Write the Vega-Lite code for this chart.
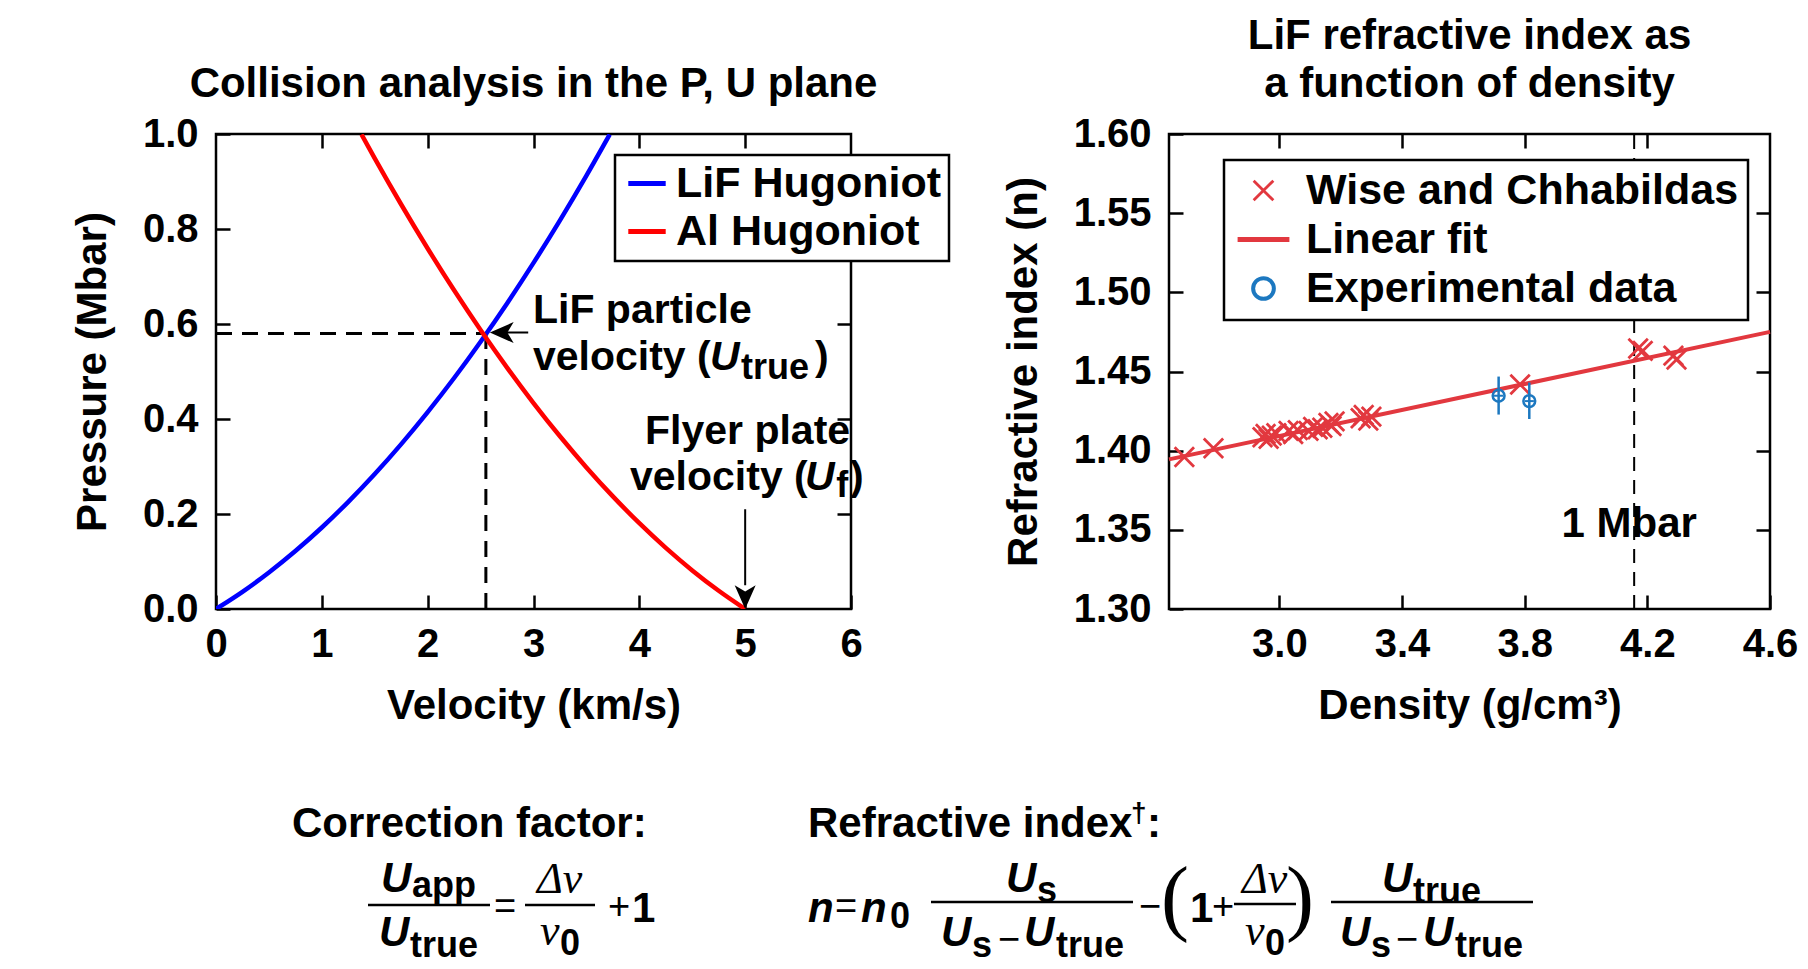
{
  "$schema": "https://vega.github.io/schema/vega-lite/v6.json",
  "padding": {"left": 70, "top": 13, "right": 0, "bottom": 0},
  "background": "white",
  "spacing": 72,
  "vconcat": [
    {
      "bounds": "flush",
      "spacing": 318,
      "resolve": {"scale": {"color": "independent"}, "legend": {"color": "independent"}},
      "hconcat": [
        {
          "width": 635,
          "height": 475,
          "title": {"text": "Collision analysis in the P, U plane", "baseline": "bottom", "offset": -34},
          "layer": [
            {
              "data": {"values": [
                {"u": 0, "u2": 2.55, "p": 0.58, "p2": 0.58},
                {"u": 2.55, "u2": 2.55, "p": 0, "p2": 0.58}
              ]},
              "mark": {"type": "rule", "strokeDash": [16, 10], "strokeWidth": 3, "color": "black"},
              "encoding": {
                "x": {"field": "u", "type": "quantitative", "scale": {"domain": [0, 6], "nice": false, "zero": false},
                      "axis": {"orient": "top", "values": [1, 2, 3, 4, 5], "labels": false, "title": null, "minExtent": 0, "maxExtent": 0}},
                "x2": {"field": "u2"},
                "y": {"field": "p", "type": "quantitative", "scale": {"domain": [0, 1], "nice": false, "zero": false},
                      "axis": {"orient": "right", "values": [0.2, 0.4, 0.6, 0.8], "labels": false, "title": null, "minExtent": 0, "maxExtent": 0}},
                "y2": {"field": "p2"}
              }
            },
            {
              "data": {"values": [
                {"curve": "LiF Hugoniot", "u": 0, "p": 0},
                {"curve": "LiF Hugoniot", "u": 0.25, "p": 0.0362},
                {"curve": "LiF Hugoniot", "u": 0.5, "p": 0.0769},
                {"curve": "LiF Hugoniot", "u": 0.75, "p": 0.122},
                {"curve": "LiF Hugoniot", "u": 1.0, "p": 0.1716},
                {"curve": "LiF Hugoniot", "u": 1.25, "p": 0.2256},
                {"curve": "LiF Hugoniot", "u": 1.5, "p": 0.2841},
                {"curve": "LiF Hugoniot", "u": 1.75, "p": 0.3471},
                {"curve": "LiF Hugoniot", "u": 2.0, "p": 0.4145},
                {"curve": "LiF Hugoniot", "u": 2.25, "p": 0.4863},
                {"curve": "LiF Hugoniot", "u": 2.5, "p": 0.5627},
                {"curve": "LiF Hugoniot", "u": 2.75, "p": 0.6434},
                {"curve": "LiF Hugoniot", "u": 3.0, "p": 0.7286},
                {"curve": "LiF Hugoniot", "u": 3.25, "p": 0.8183},
                {"curve": "LiF Hugoniot", "u": 3.5, "p": 0.9125},
                {"curve": "LiF Hugoniot", "u": 3.72, "p": 0.999},
                {"curve": "Al Hugoniot", "u": 1.375, "p": 0.999},
                {"curve": "Al Hugoniot", "u": 1.5, "p": 0.9488},
                {"curve": "Al Hugoniot", "u": 1.75, "p": 0.8516},
                {"curve": "Al Hugoniot", "u": 2.0, "p": 0.759},
                {"curve": "Al Hugoniot", "u": 2.25, "p": 0.6709},
                {"curve": "Al Hugoniot", "u": 2.5, "p": 0.5873},
                {"curve": "Al Hugoniot", "u": 2.75, "p": 0.5082},
                {"curve": "Al Hugoniot", "u": 3.0, "p": 0.4336},
                {"curve": "Al Hugoniot", "u": 3.25, "p": 0.3636},
                {"curve": "Al Hugoniot", "u": 3.5, "p": 0.2981},
                {"curve": "Al Hugoniot", "u": 3.75, "p": 0.2371},
                {"curve": "Al Hugoniot", "u": 4.0, "p": 0.1806},
                {"curve": "Al Hugoniot", "u": 4.25, "p": 0.1287},
                {"curve": "Al Hugoniot", "u": 4.5, "p": 0.0813},
                {"curve": "Al Hugoniot", "u": 4.75, "p": 0.0384},
                {"curve": "Al Hugoniot", "u": 5.0, "p": 0}
              ]},
              "mark": {"type": "line", "strokeWidth": 4.5, "interpolate": "monotone", "clip": true},
              "encoding": {
                "x": {"field": "u", "type": "quantitative",
                      "axis": {"orient": "bottom", "values": [0, 1, 2, 3, 4, 5, 6], "format": "d", "title": "Velocity (km/s)"}},
                "y": {"field": "p", "type": "quantitative",
                      "axis": {"orient": "left", "values": [0, 0.2, 0.4, 0.6, 0.8, 1.0], "format": ".1f", "title": "Pressure (Mbar)"}},
                "color": {"field": "curve", "type": "nominal",
                          "scale": {"domain": ["LiF Hugoniot", "Al Hugoniot"], "range": ["#0000ff", "#ff0000"]},
                          "legend": {"orient": "none", "legendX": 399, "legendY": 21, "title": null,
                                     "symbolType": "stroke", "symbolSize": 1400, "symbolStrokeWidth": 5,
                                     "labelFont": "Liberation Sans", "labelFontSize": 43, "labelFontWeight": "bold",
                                     "labelColor": "black", "labelLimit": 1000,
                                     "strokeColor": "black", "fillColor": "white",
                                     "padding": 7, "rowPadding": 4, "symbolOffset": 3.5, "labelOffset": 7.5}}
              }
            },
            {
              "data": {"values": [
                {"u": 2.62, "u2": 2.95, "p": 0.582, "p2": 0.582},
                {"u": 5, "u2": 5, "p": 0.21, "p2": 0.05}
              ]},
              "mark": {"type": "rule", "strokeWidth": 2, "color": "black"},
              "encoding": {
                "x": {"field": "u", "type": "quantitative", "axis": null},
                "x2": {"field": "u2"},
                "y": {"field": "p", "type": "quantitative", "axis": null},
                "y2": {"field": "p2"}
              }
            },
            {
              "data": {"values": [{"u": 2.72, "p": 0.582}]},
              "mark": {"type": "point", "shape": "M-1,0L0.7,-0.75L0.25,0L0.7,0.75Z", "size": 784, "filled": true, "color": "black", "opacity": 1, "strokeWidth": 0},
              "encoding": {
                "x": {"field": "u", "type": "quantitative", "axis": null},
                "y": {"field": "p", "type": "quantitative", "axis": null}
              }
            },
            {
              "data": {"values": [{"u": 5, "p": 0.0295}]},
              "mark": {"type": "point", "shape": "M0,1L-0.75,-0.7L0,-0.25L0.75,-0.7Z", "size": 784, "filled": true, "color": "black", "opacity": 1, "strokeWidth": 0},
              "encoding": {
                "x": {"field": "u", "type": "quantitative", "axis": null},
                "y": {"field": "p", "type": "quantitative", "axis": null}
              }
            },
            {
              "data": {"values": [
                {"u": 2.995, "p": 0.603, "t": "LiF particle"},
                {"u": 2.995, "p": 0.504, "t": "velocity ("},
                {"u": 5.66, "p": 0.504, "t": ")"},
                {"u": 4.054, "p": 0.347, "t": "Flyer plate"},
                {"u": 3.912, "p": 0.2495, "t": "velocity ("},
                {"u": 5.99, "p": 0.2495, "t": ")"}
              ]},
              "mark": {"type": "text", "align": "left", "baseline": "alphabetic", "fontSize": 41, "fontWeight": "bold", "font": "Liberation Sans", "color": "black"},
              "encoding": {
                "x": {"field": "u", "type": "quantitative", "axis": null},
                "y": {"field": "p", "type": "quantitative", "axis": null},
                "text": {"field": "t"}
              }
            },
            {
              "data": {"values": [
                {"u": 4.668, "p": 0.504, "t": "U"},
                {"u": 5.565, "p": 0.2495, "t": "U"}
              ]},
              "mark": {"type": "text", "align": "left", "baseline": "alphabetic", "fontSize": 41, "fontWeight": "bold", "fontStyle": "italic", "font": "Liberation Sans", "color": "black"},
              "encoding": {
                "x": {"field": "u", "type": "quantitative", "axis": null},
                "y": {"field": "p", "type": "quantitative", "axis": null},
                "text": {"field": "t"}
              }
            },
            {
              "data": {"values": [
                {"u": 4.96, "p": 0.484, "t": "true"},
                {"u": 5.86, "p": 0.235, "t": "f"}
              ]},
              "mark": {"type": "text", "align": "left", "baseline": "alphabetic", "fontSize": 36, "fontWeight": "bold", "font": "Liberation Sans", "color": "black"},
              "encoding": {
                "x": {"field": "u", "type": "quantitative", "axis": null},
                "y": {"field": "p", "type": "quantitative", "axis": null},
                "text": {"field": "t"}
              }
            }
          ]
        },
        {
          "width": 601,
          "height": 475,
          "title": {"text": ["LiF refractive index as", "a function of density"], "baseline": "bottom", "offset": -34},
          "layer": [
            {
              "data": {"values": [{"d": 4.157, "n": 1.3, "n2": 1.6}]},
              "mark": {"type": "rule", "strokeDash": [14, 9], "strokeWidth": 2, "color": "black"},
              "encoding": {
                "x": {"field": "d", "type": "quantitative", "scale": {"domain": [2.64, 4.6], "nice": false, "zero": false},
                      "axis": {"orient": "top", "values": [3.0, 3.4, 3.8, 4.2], "labels": false, "title": null, "minExtent": 0, "maxExtent": 0}},
                "y": {"field": "n", "type": "quantitative", "scale": {"domain": [1.3, 1.6], "nice": false, "zero": false},
                      "axis": {"orient": "right", "values": [1.35, 1.4, 1.45, 1.5, 1.55], "labels": false, "title": null, "minExtent": 0, "maxExtent": 0}},
                "y2": {"field": "n2"}
              }
            },
            {
              "data": {"values": [
                {"d": 2.64, "n": 1.3945, "series": "Linear fit"},
                {"d": 4.6, "n": 1.475, "series": "Linear fit"}
              ]},
              "mark": {"type": "line", "strokeWidth": 4},
              "encoding": {
                "x": {"field": "d", "type": "quantitative",
                      "axis": {"orient": "bottom", "values": [3.0, 3.4, 3.8, 4.2, 4.6], "format": ".1f", "title": "Density (g/cm³)"}},
                "y": {"field": "n", "type": "quantitative",
                      "axis": {"orient": "left", "values": [1.3, 1.35, 1.4, 1.45, 1.5, 1.55, 1.6], "format": ".2f", "title": "Refractive index (n)"}},
                "color": {"field": "series", "type": "nominal",
                          "scale": {"domain": ["Wise and Chhabildas", "Linear fit", "Experimental data"], "range": ["#e2383f", "#e2383f", "#1c78c0"]},
                          "legend": {"orient": "none", "legendX": 55, "legendY": 26, "title": null,
                                     "symbolSize": 2683,
                                     "labelFont": "Liberation Sans", "labelFontSize": 43, "labelFontWeight": "bold",
                                     "labelColor": "black", "labelLimit": 1000,
                                     "strokeColor": "black", "fillColor": "white",
                                     "padding": 9, "rowPadding": 5, "symbolOffset": 9, "labelOffset": 21,
                                     "encode": {"symbols": {"update": {
                                       "shape": {"signal": "datum.value === 'Linear fit' ? 'M-1,0L1,0' : datum.value === 'Experimental data' ? 'M0.4,0A0.4,0.4,0,1,1,-0.4,0A0.4,0.4,0,1,1,0.4,0Z' : 'M-0.38,-0.38L0.38,0.38M-0.38,0.38L0.38,-0.38'"},
                                       "stroke": {"signal": "datum.value === 'Experimental data' ? '#1c78c0' : '#e2383f'"},
                                       "fill": {"value": "transparent"},
                                       "strokeWidth": {"signal": "datum.value === 'Linear fit' ? 5 : datum.value === 'Experimental data' ? 4 : 2.8"},
                                       "opacity": {"value": 1}
                                     }}}}}
              }
            },
            {
              "data": {"values": [
                {"d": 2.69, "n": 1.396, "series": "Wise and Chhabildas"},
                {"d": 2.785, "n": 1.4015, "series": "Wise and Chhabildas"},
                {"d": 2.945, "n": 1.4085, "series": "Wise and Chhabildas"},
                {"d": 2.955, "n": 1.4105, "series": "Wise and Chhabildas"},
                {"d": 2.965, "n": 1.4075, "series": "Wise and Chhabildas"},
                {"d": 2.975, "n": 1.4095, "series": "Wise and Chhabildas"},
                {"d": 2.99, "n": 1.411, "series": "Wise and Chhabildas"},
                {"d": 3.03, "n": 1.4125, "series": "Wise and Chhabildas"},
                {"d": 3.045, "n": 1.4105, "series": "Wise and Chhabildas"},
                {"d": 3.06, "n": 1.413, "series": "Wise and Chhabildas"},
                {"d": 3.095, "n": 1.4125, "series": "Wise and Chhabildas"},
                {"d": 3.11, "n": 1.415, "series": "Wise and Chhabildas"},
                {"d": 3.125, "n": 1.4135, "series": "Wise and Chhabildas"},
                {"d": 3.14, "n": 1.4145, "series": "Wise and Chhabildas"},
                {"d": 3.16, "n": 1.4175, "series": "Wise and Chhabildas"},
                {"d": 3.17, "n": 1.4155, "series": "Wise and Chhabildas"},
                {"d": 3.18, "n": 1.4185, "series": "Wise and Chhabildas"},
                {"d": 3.265, "n": 1.4205, "series": "Wise and Chhabildas"},
                {"d": 3.275, "n": 1.4225, "series": "Wise and Chhabildas"},
                {"d": 3.29, "n": 1.419, "series": "Wise and Chhabildas"},
                {"d": 3.3, "n": 1.4215, "series": "Wise and Chhabildas"},
                {"d": 3.785, "n": 1.4418, "series": "Wise and Chhabildas"},
                {"d": 4.17, "n": 1.4645, "series": "Wise and Chhabildas"},
                {"d": 4.185, "n": 1.463, "series": "Wise and Chhabildas"},
                {"d": 4.285, "n": 1.46, "series": "Wise and Chhabildas"},
                {"d": 4.295, "n": 1.4575, "series": "Wise and Chhabildas"}
              ]},
              "mark": {"type": "point", "shape": "M-0.38,-0.38L0.38,0.38M-0.38,0.38L0.38,-0.38", "size": 2600, "filled": false, "strokeWidth": 2.8, "opacity": 1},
              "encoding": {
                "x": {"field": "d", "type": "quantitative", "axis": null},
                "y": {"field": "n", "type": "quantitative", "axis": null},
                "color": {"field": "series", "type": "nominal"}
              }
            },
            {
              "data": {"values": [
                {"d": 3.715, "lo": 1.4228, "hi": 1.4468},
                {"d": 3.815, "lo": 1.42, "hi": 1.443}
              ]},
              "mark": {"type": "rule", "strokeWidth": 2.5, "color": "#1c78c0"},
              "encoding": {
                "x": {"field": "d", "type": "quantitative", "axis": null},
                "y": {"field": "lo", "type": "quantitative", "axis": null},
                "y2": {"field": "hi"}
              }
            },
            {
              "data": {"values": [
                {"d": 3.7, "d2": 3.73, "n": 1.4347},
                {"d": 3.8, "d2": 3.83, "n": 1.4313}
              ]},
              "mark": {"type": "rule", "strokeWidth": 2, "color": "#1c78c0"},
              "encoding": {
                "x": {"field": "d", "type": "quantitative", "axis": null},
                "x2": {"field": "d2"},
                "y": {"field": "n", "type": "quantitative", "axis": null}
              }
            },
            {
              "data": {"values": [
                {"d": 3.715, "n": 1.4347, "series": "Experimental data"},
                {"d": 3.815, "n": 1.4313, "series": "Experimental data"}
              ]},
              "mark": {"type": "point", "shape": "circle", "size": 140, "filled": false, "strokeWidth": 2.5, "opacity": 1},
              "encoding": {
                "x": {"field": "d", "type": "quantitative", "axis": null},
                "y": {"field": "n", "type": "quantitative", "axis": null},
                "color": {"field": "series", "type": "nominal"}
              }
            },
            {
              "data": {"values": [{"d": 4.141, "n": 1.354, "t": "1 Mbar"}]},
              "mark": {"type": "text", "align": "center", "baseline": "middle", "fontSize": 42, "fontWeight": "bold", "font": "Liberation Sans", "color": "black"},
              "encoding": {
                "x": {"field": "d", "type": "quantitative", "axis": null},
                "y": {"field": "n", "type": "quantitative", "axis": null},
                "text": {"field": "t"}
              }
            }
          ]
        }
      ]
    },
    {
      "width": 1592,
      "height": 169,
      "view": {"stroke": null},
      "layer": [
        {
          "data": {"values": [
            {"fx": 9.548, "fx2": 17.211, "fy": 62.13},
            {"fx": 19.41, "fx2": 23.807, "fy": 62.13},
            {"fx": 44.912, "fx2": 57.601, "fy": 60.36},
            {"fx": 63.945, "fx2": 67.839, "fy": 61.54},
            {"fx": 70.038, "fx2": 82.726, "fy": 60.36}
          ]},
          "mark": {"type": "rule", "strokeWidth": 2.5, "color": "black"},
          "encoding": {
            "x": {"field": "fx", "type": "quantitative", "scale": {"domain": [0, 100], "nice": false, "zero": false}, "axis": null},
            "x2": {"field": "fx2"},
            "y": {"field": "fy", "type": "quantitative", "scale": {"domain": [0, 100], "nice": false, "zero": false, "reverse": true}, "axis": null}
          }
        },
        {
          "data": {"values": [
            {"fx": 4.774, "fy": 21.89, "t": "Correction factor:"},
            {"fx": 37.186, "fy": 21.89, "t": "Refractive index"},
            {"fx": 58.48, "fy": 21.89, "t": ":"},
            {"fx": 26.131, "fy": 72.43, "t": "1"},
            {"fx": 61.181, "fy": 72.43, "t": "1"}
          ]},
          "mark": {"type": "text", "align": "left", "baseline": "alphabetic", "fontSize": 42, "fontWeight": "bold", "font": "Liberation Sans", "color": "black"},
          "encoding": {
            "x": {"field": "fx", "type": "quantitative", "axis": null},
            "y": {"field": "fy", "type": "quantitative", "axis": null},
            "text": {"field": "t"}
          }
        },
        {
          "data": {"values": [
            {"fx": 10.364, "fy": 54.73, "t": "U"},
            {"fx": 10.239, "fy": 86.39, "t": "U"},
            {"fx": 37.186, "fy": 72.43, "t": "n"},
            {"fx": 40.515, "fy": 72.43, "t": "n"},
            {"fx": 49.623, "fy": 54.73, "t": "U"},
            {"fx": 45.54, "fy": 86.39, "t": "U"},
            {"fx": 50.754, "fy": 86.39, "t": "U"},
            {"fx": 73.241, "fy": 54.73, "t": "U"},
            {"fx": 70.603, "fy": 86.39, "t": "U"},
            {"fx": 75.817, "fy": 86.39, "t": "U"}
          ]},
          "mark": {"type": "text", "align": "left", "baseline": "alphabetic", "fontSize": 42, "fontWeight": "bold", "fontStyle": "italic", "font": "Liberation Sans", "color": "black"},
          "encoding": {
            "x": {"field": "fx", "type": "quantitative", "axis": null},
            "y": {"field": "fy", "type": "quantitative", "axis": null},
            "text": {"field": "t"}
          }
        },
        {
          "data": {"values": [
            {"fx": 12.312, "fy": 57.69, "t": "app"},
            {"fx": 12.186, "fy": 92.9, "t": "true"},
            {"fx": 21.608, "fy": 91.72, "t": "0"},
            {"fx": 42.337, "fy": 75.98, "t": "0"},
            {"fx": 51.57, "fy": 60.65, "t": "s"},
            {"fx": 47.487, "fy": 92.9, "t": "s"},
            {"fx": 52.764, "fy": 92.9, "t": "true"},
            {"fx": 65.892, "fy": 91.72, "t": "0"},
            {"fx": 75.188, "fy": 61.24, "t": "true"},
            {"fx": 72.55, "fy": 92.9, "t": "s"},
            {"fx": 77.827, "fy": 92.9, "t": "true"}
          ]},
          "mark": {"type": "text", "align": "left", "baseline": "alphabetic", "fontSize": 36, "fontWeight": "bold", "font": "Liberation Sans", "color": "black"},
          "encoding": {
            "x": {"field": "fx", "type": "quantitative", "axis": null},
            "y": {"field": "fy", "type": "quantitative", "axis": null},
            "text": {"field": "t"}
          }
        },
        {
          "data": {"values": [{"fx": 57.475, "fy": 13.02, "t": "†"}]},
          "mark": {"type": "text", "align": "left", "baseline": "alphabetic", "fontSize": 28, "fontWeight": "bold", "font": "Liberation Sans", "color": "black"},
          "encoding": {
            "x": {"field": "fx", "type": "quantitative", "axis": null},
            "y": {"field": "fy", "type": "quantitative", "axis": null},
            "text": {"field": "t"}
          }
        },
        {
          "data": {"values": [
            {"fx": 18.153, "fy": 64.14, "t": "="},
            {"fx": 25.314, "fy": 64.14, "t": "+"},
            {"fx": 39.573, "fy": 64.14, "t": "="},
            {"fx": 49.812, "fy": 83.43, "t": "−"},
            {"fx": 58.668, "fy": 64.14, "t": "−"},
            {"fx": 63.254, "fy": 64.14, "t": "+"},
            {"fx": 74.812, "fy": 83.43, "t": "−"}
          ]},
          "mark": {"type": "text", "align": "center", "baseline": "middle", "fontSize": 38, "fontWeight": "normal", "font": "Liberation Sans", "color": "black"},
          "encoding": {
            "x": {"field": "fx", "type": "quantitative", "axis": null},
            "y": {"field": "fy", "type": "quantitative", "axis": null},
            "text": {"field": "t"}
          }
        },
        {
          "data": {"values": [
            {"fx": 20.163, "fy": 55.03, "t": "Δν"},
            {"fx": 20.352, "fy": 85.8, "t": "ν"},
            {"fx": 64.447, "fy": 55.03, "t": "Δν"},
            {"fx": 64.636, "fy": 85.8, "t": "ν"}
          ]},
          "mark": {"type": "text", "align": "left", "baseline": "alphabetic", "fontSize": 44, "fontWeight": "normal", "fontStyle": "italic", "font": "Liberation Serif", "color": "black"},
          "encoding": {
            "x": {"field": "fx", "type": "quantitative", "axis": null},
            "y": {"field": "fy", "type": "quantitative", "axis": null},
            "text": {"field": "t"}
          }
        },
        {
          "data": {"values": [
            {"fx": 59.359, "fy": 59.17, "t": "("},
            {"fx": 67.211, "fy": 59.17, "t": ")"}
          ]},
          "mark": {"type": "text", "align": "left", "baseline": "middle", "fontSize": 84, "fontWeight": "normal", "font": "Liberation Serif", "color": "black"},
          "encoding": {
            "x": {"field": "fx", "type": "quantitative", "axis": null},
            "y": {"field": "fy", "type": "quantitative", "axis": null},
            "text": {"field": "t"}
          }
        }
      ]
    }
  ],
  "config": {
    "font": "Liberation Sans",
    "view": {"stroke": "black", "strokeWidth": 2.5},
    "axis": {"grid": false, "domain": false, "ticks": true, "tickColor": "black", "tickWidth": 2.5, "tickSize": -14,
             "labelFont": "Liberation Sans", "labelFontSize": 40, "labelFontWeight": "bold", "labelColor": "black",
             "labelFlush": false, "labelOverlap": false,
             "titleFont": "Liberation Sans", "titleFontSize": 42, "titleFontWeight": "bold", "titleColor": "black"},
    "axisX": {"labelPadding": 29, "titlePadding": 21},
    "axisY": {"labelPadding": 32, "titlePadding": 28},
    "title": {"font": "Liberation Sans", "fontSize": 42, "fontWeight": "bold", "color": "black", "anchor": "middle", "lineHeight": 48},
    "legend": {"strokeWidth": 2.5},
    "text": {"font": "Liberation Sans", "color": "black"}
  }
}
